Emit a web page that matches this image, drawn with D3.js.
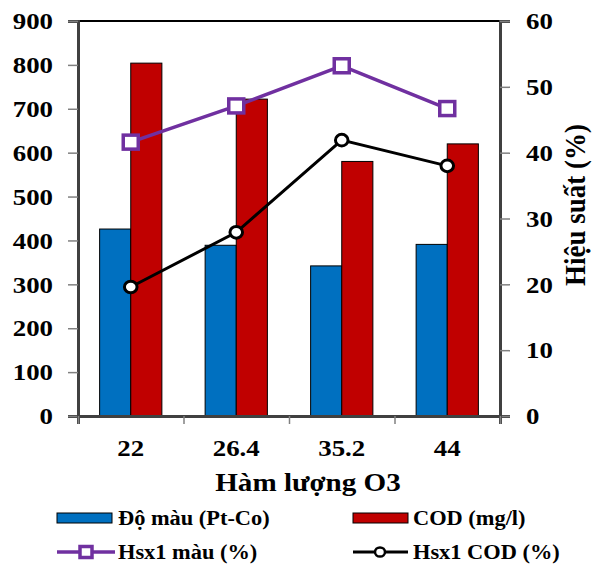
<!DOCTYPE html>
<html>
<head>
<meta charset="utf-8">
<script src="https://cdn.jsdelivr.net/npm/d3@7"></script>
<style>
  body { margin: 0; background: #fff; }
  svg text { font-family: "Liberation Serif", Tinos, "Times New Roman", "DejaVu Serif", serif; font-weight: bold; fill: #000; }
</style>
</head>
<body>
<div class="container"></div>
<script>
// data
const categories = ["22", "26.4", "35.2", "44"];
const colorValues = [426, 389, 342, 391];      // Độ màu (Pt-Co)
const codValues = [804, 722, 580, 620];        // COD (mg/l)
const colorEff = [41.6, 47.1, 53.2, 46.7];     // Hsx1 màu (%)
const codEff = [19.6, 27.9, 41.9, 38.0];       // Hsx1 COD (%)
const leftTicks = [0, 100, 200, 300, 400, 500, 600, 700, 800, 900];
const rightTicks = [0, 10, 20, 30, 40, 50, 60];
const legendLabels = ["Độ màu (Pt-Co)", "COD (mg/l)", "Hsx1 màu (%)", "Hsx1 COD (%)"];

const SX = 1.12; // the source picture is a bit stretched sideways
const FONT = '"Liberation Serif", Tinos, "Times New Roman", "DejaVu Serif", serif';

const margin = {top: 21, right: 92, bottom: 149, left: 78},
      width = 592 - margin.left - margin.right,
      height = 565 - margin.top - margin.bottom;

const svg = d3.select(".container")
  .append("svg")
  .attr("width", 592)
  .attr("height", 565)
  .attr("font-family", FONT)
  .attr("font-weight", "bold");

const chart = svg.append("g")
  .attr("transform", "translate(" + margin.left + "," + margin.top + ")");

const xScale = d3.scaleBand()
  .domain(categories)
  .range([0, width])
  .paddingInner(0.41)
  .paddingOuter(0.205);

const yLeft = d3.scaleLinear().domain([0, 900]).range([height, 0]);
const yRight = d3.scaleLinear().domain([0, 60]).range([height, 0]);

// plot frame
chart.append("rect")
  .attr("width", width)
  .attr("height", height)
  .attr("fill", "none")
  .attr("stroke", "#000")
  .attr("stroke-width", 2);

// bars
const bw = xScale.bandwidth() / 2;
chart.selectAll(".bar-color")
  .data(colorValues)
  .enter()
  .append("rect")
  .attr("x", (d, i) => xScale(categories[i]))
  .attr("y", d => yLeft(d))
  .attr("width", bw)
  .attr("height", d => height - yLeft(d))
  .attr("fill", "#0070C0")
  .attr("stroke", "#000")
  .attr("stroke-width", 1);

chart.selectAll(".bar-cod")
  .data(codValues)
  .enter()
  .append("rect")
  .attr("x", (d, i) => xScale(categories[i]) + bw)
  .attr("y", d => yLeft(d))
  .attr("width", bw)
  .attr("height", d => height - yLeft(d))
  .attr("fill", "#C00000")
  .attr("stroke", "#000")
  .attr("stroke-width", 1);

// axes
function stretchText(sel) {
  sel.attr("font-family", FONT);
  sel.selectAll("text").each(function() {
    const t = d3.select(this);
    const x = +t.attr("x") || 0;
    t.attr("x", x / SX)
      .attr("transform", "scale(" + SX + ",1)")
      .style("font-family", FONT)
      .style("font-weight", "bold")
      .style("font-size", "24px");
  });
}

const leftAxis = chart.append("g")
  .call(d3.axisLeft(yLeft).tickValues(leftTicks).tickSize(10).tickPadding(15));
stretchText(leftAxis);

const rightAxis = chart.append("g")
  .attr("transform", "translate(" + width + ",0)")
  .call(d3.axisRight(yRight).tickValues(rightTicks).tickSize(10).tickPadding(16));
stretchText(rightAxis);

const bottomTicks = chart.append("g")
  .attr("transform", "translate(0," + height + ")")
  .call(d3.axisBottom(d3.scaleLinear().domain([0, categories.length]).range([0, width]))
    .ticks(categories.length).tickFormat("").tickSize(8));

const bottomAxis = chart.append("g")
  .attr("transform", "translate(0," + height + ")")
  .call(d3.axisBottom(xScale).tickSize(0).tickPadding(23));
stretchText(bottomAxis);
bottomAxis.select(".domain").remove();

[leftAxis, rightAxis, bottomTicks].forEach(a => {
  a.select(".domain").attr("stroke", "#404040").attr("stroke-width", 3);
  a.selectAll(".tick line").attr("stroke", "#808080").attr("stroke-width", 1.5);
});

// lines
const cx = i => xScale(categories[i]) + xScale.bandwidth() / 2;
const line = d3.line().x((d, i) => cx(i)).y(d => yRight(d));

chart.append("path")
  .datum(colorEff)
  .attr("d", line)
  .attr("fill", "none")
  .attr("stroke", "#7030A0")
  .attr("stroke-width", 3.5);

chart.append("path")
  .datum(codEff)
  .attr("d", line)
  .attr("fill", "none")
  .attr("stroke", "#000")
  .attr("stroke-width", 3);

chart.selectAll(".sq")
  .data(colorEff)
  .enter()
  .append("rect")
  .attr("x", (d, i) => cx(i) - 7.5)
  .attr("y", d => yRight(d) - 7)
  .attr("width", 15)
  .attr("height", 14)
  .attr("fill", "#fff")
  .attr("stroke", "#7030A0")
  .attr("stroke-width", 3.5);

chart.selectAll(".dot")
  .data(codEff)
  .enter()
  .append("ellipse")
  .attr("cx", (d, i) => cx(i))
  .attr("cy", d => yRight(d))
  .attr("rx", 6.3)
  .attr("ry", 5.8)
  .attr("fill", "#fff")
  .attr("stroke", "#000")
  .attr("stroke-width", 3);

// axis titles
svg.append("text")
  .attr("transform", "translate(308,491) scale(" + SX + ",1)")
  .attr("text-anchor", "middle")
  .style("font-size", "26px")
  .text("Hàm lượng O3");

svg.append("text")
  .attr("transform", "translate(585,205) scale(" + SX + ",1) rotate(-90)")
  .attr("text-anchor", "middle")
  .style("font-size", "27px")
  .text("Hiệu suất (%)");

// legend
const legend = svg.append("g");
const legX = [57, 353];
const legY = [518, 552];

[0, 1].forEach(i => {
  legend.append("rect")
    .attr("x", legX[i])
    .attr("y", legY[0] - 5)
    .attr("width", 55)
    .attr("height", 10)
    .attr("fill", i === 0 ? "#0070C0" : "#C00000")
    .attr("stroke", "#000")
    .attr("stroke-width", 1);
});

legend.append("line")
  .attr("x1", legX[0]).attr("x2", legX[0] + 58)
  .attr("y1", legY[1]).attr("y2", legY[1])
  .attr("stroke", "#7030A0").attr("stroke-width", 3.5);
legend.append("rect")
  .attr("x", legX[0] + 29 - 6).attr("y", legY[1] - 5.5)
  .attr("width", 12).attr("height", 11)
  .attr("fill", "#fff").attr("stroke", "#7030A0").attr("stroke-width", 3.5);

legend.append("line")
  .attr("x1", legX[1]).attr("x2", legX[1] + 55)
  .attr("y1", legY[1]).attr("y2", legY[1])
  .attr("stroke", "#000").attr("stroke-width", 3);
legend.append("ellipse")
  .attr("cx", legX[1] + 27).attr("cy", legY[1])
  .attr("rx", 5).attr("ry", 4.6)
  .attr("fill", "#fff").attr("stroke", "#000").attr("stroke-width", 2.5);

legendLabels.forEach((lab, i) => {
  const tx = i % 2 === 0 ? 118 : 413;
  const ty = (i < 2 ? legY[0] : legY[1]) + 7;
  legend.append("text")
    .attr("transform", "translate(" + tx + "," + ty + ") scale(" + SX + ",1)")
    .style("font-size", "20px")
    .text(lab);
});
</script>
</body>
</html>
